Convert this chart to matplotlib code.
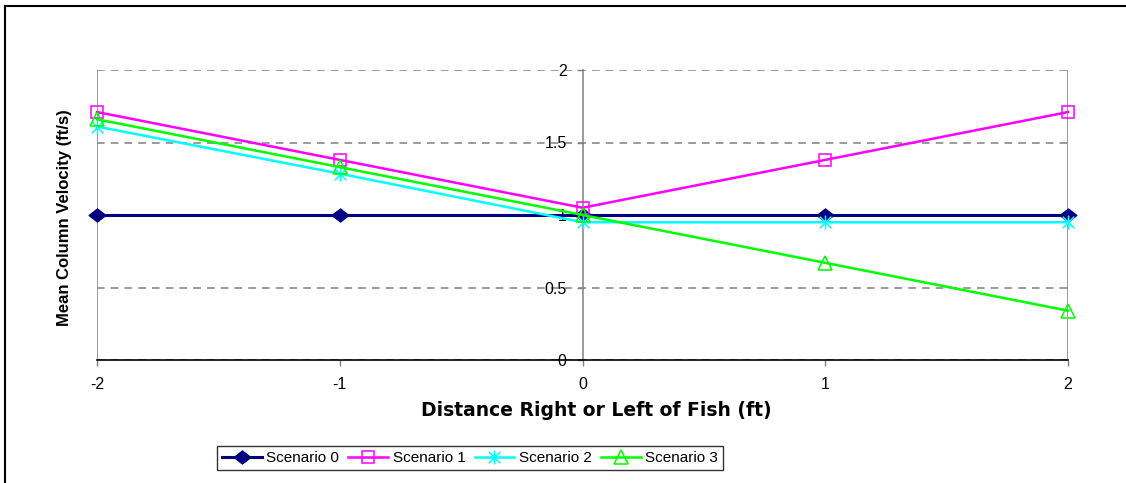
import matplotlib.pyplot as plt
from matplotlib.lines import Line2D
from matplotlib.path import Path

# distance from fish (ft) and mean column velocity (ft/s) for each scenario
distance = [-2, -1, 0, 1, 2]
scenario_0 = [1.0, 1.0, 1.0, 1.0, 1.0]
scenario_1 = [1.71, 1.38, 1.05, 1.38, 1.71]
scenario_2 = [1.61, 1.285, 0.95, 0.95, 0.95]
scenario_3 = [1.66, 1.33, 1.0, 0.67, 0.34]
labels = ["Scenario 0", "Scenario 1", "Scenario 2", "Scenario 3"]
y_ticks = [0, 0.5, 1, 1.5, 2]

plt.rcParams["font.family"] = ["Liberation Sans", "DejaVu Sans"]
plt.rcParams["axes.unicode_minus"] = False

# Excel-style markers: flat diamond and an asterisk (x with a vertical bar)
diamond = Path([(-1, 0), (0, 0.78), (1, 0), (0, -0.78), (-1, 0)],
               [Path.MOVETO, Path.LINETO, Path.LINETO, Path.LINETO, Path.CLOSEPOLY])
asterisk = Path([(-1, -1), (1, 1), (-1, 1), (1, -1), (0, -1.2), (0, 1.2)],
                [Path.MOVETO, Path.LINETO, Path.MOVETO, Path.LINETO, Path.MOVETO, Path.LINETO])

fig = plt.figure(figsize=(11.26, 4.83), dpi=100)
ax = fig.add_axes([97 / 1126, 1 - 360 / 483, 971 / 1126, 290 / 483])

styles = [
    dict(color="#000080", marker=diamond, ms=12, mfc="#000080", mec="#000080", lw=2.2),
    dict(color="#FF00FF", marker="s", ms=9, mfc="none", mec="#FF00FF", mew=1.1, lw=1.8),
    dict(color="#00FFFF", marker=asterisk, ms=10, mec="#00FFFF", mew=1.1, lw=1.8),
    dict(color="#00FF00", marker="^", ms=10, mfc="none", mec="#00FF00", mew=1.1, lw=1.8),
]
series = [scenario_0, scenario_1, scenario_2, scenario_3]
for vals, lab, st in zip(series, labels, styles):
    ax.plot(distance, vals, label=lab, clip_on=False, zorder=3, **st)

ax.set_xlim(-2, 2)
ax.set_ylim(0, 2)
ax.set_xticks(distance)
ax.set_yticks(y_ticks)
ax.set_yticklabels(["0", "0.5", "1", "1.5", "2"])

ax.grid(axis="y", color="#808080", linestyle=(0, (5, 4)), linewidth=1.1)
ax.grid(axis="x", visible=False)

ax.spines["top"].set_visible(False)
ax.spines["right"].set_visible(False)
ax.spines["left"].set_position(("data", 0))
ax.spines["left"].set_color("#808080")
ax.spines["left"].set_linewidth(1.1)
ax.spines["bottom"].set_color("black")
ax.spines["bottom"].set_linewidth(1.2)
ax.axvline(-2, color="#808080", lw=1.1, zorder=1)
ax.axvline(2, color="#808080", lw=1.1, zorder=1)

ax.tick_params(axis="y", direction="out", length=4.5, width=1, color="#808080",
               pad=7, labelsize=11.5)
ax.tick_params(axis="x", direction="out", length=4.5, width=1, color="#808080",
               pad=8, labelsize=11.5)

fig.text(596 / 1126, 1 - 410 / 483, "Distance Right or Left of Fish (ft)",
         ha="center", va="center", fontsize=13.5, fontweight="bold",
         family="DejaVu Sans")
fig.text(65 / 1126, 1 - 218 / 483, "Mean Column Velocity (ft/s)",
         ha="center", va="center", rotation=90, fontsize=12, fontweight="bold")

leg = fig.legend(loc="center", bbox_to_anchor=(470 / 1126, 1 - 458 / 483), ncol=4,
                 fontsize=11, frameon=True, fancybox=False, edgecolor="black",
                 handlelength=2.6, handletextpad=0.3, columnspacing=0.6,
                 borderpad=0.3, borderaxespad=0)
leg.get_frame().set_linewidth(1.0)

# chart border along the top and left edges
fig.add_artist(Line2D([4.5 / 1126, 1], [1 - 5.5 / 483, 1 - 5.5 / 483],
                      transform=fig.transFigure, color="black", lw=1.5))
fig.add_artist(Line2D([4.5 / 1126, 4.5 / 1126], [0, 1 - 5.5 / 483],
                      transform=fig.transFigure, color="black", lw=1.5))

fig.savefig("out.png", dpi=100)
